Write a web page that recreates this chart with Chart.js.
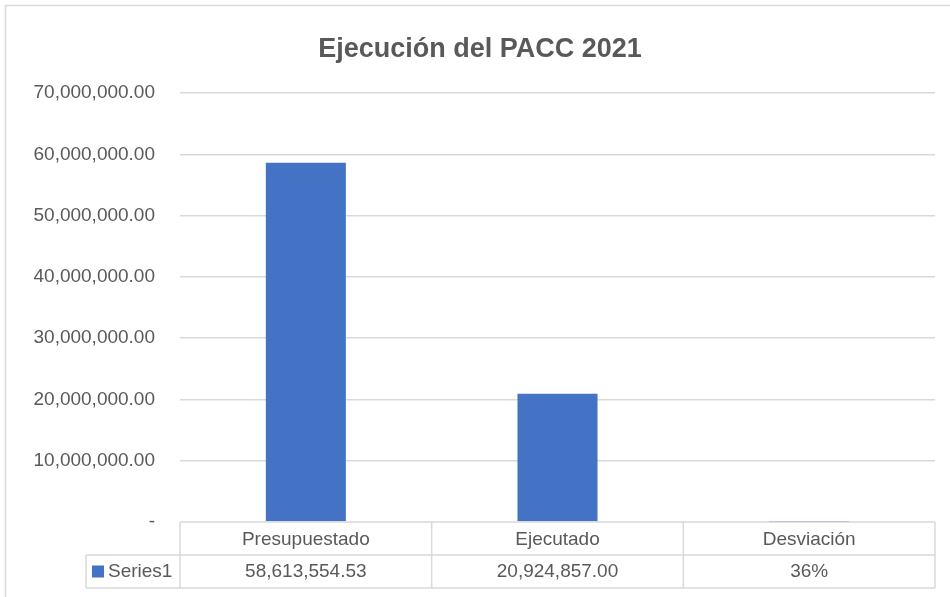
<!DOCTYPE html>
<html>
<head>
<meta charset="utf-8">
<title>Ejecución del PACC 2021</title>
<script src="https://cdn.jsdelivr.net/npm/chart.js@4"></script>
<style>
    html, body { margin: 0; padding: 0; background: #fff; }
    #wrap { width: 950px; height: 597px; position: relative; }
</style>
</head>
<body>
<div id="wrap"><canvas id="chart" width="950" height="597"></canvas></div>
<script>
    // Chart data
    const chartTitle = 'Ejecución del PACC 2021';
    const categories = ['Presupuestado', 'Ejecutado', 'Desviación'];
    const seriesName = 'Series1';
    const seriesValues = [58613554.53, 20924857.00, 0.36];
    const tableLabels = ['58,613,554.53', '20,924,857.00', '36%'];
    const yTicks = [0, 10000000, 20000000, 30000000, 40000000, 50000000, 60000000, 70000000];

    const FONT = "'Liberation Sans', Arial, sans-serif";
    const TEXT = '#595959';
    const GRID = '#d9d9d9';
    const BAR = '#4472c4';
    const SIZE = 19;

    const fmt = v => v.toLocaleString('en-US', { minimumFractionDigits: 2, maximumFractionDigits: 2 });

    /**
     * Draws the frame, the title and the data table under the x axis
     */
    const tablePlugin = {
        id: 'dataTable',
        afterDraw(chart) {
            const { ctx, chartArea, scales } = chart;
            const x = scales.x;
            const top = chartArea.bottom;
            const rowH = 33;
            const legendLeft = 86;
            const colW = x.getPixelForValue(1) - x.getPixelForValue(0);
            const left = chartArea.left;
            const right = chartArea.right;

            ctx.save();
            // chart frame
            ctx.strokeStyle = GRID;
            ctx.lineWidth = 1.5;
            ctx.beginPath();
            ctx.moveTo(5.5, 597);
            ctx.lineTo(5.5, 5.5);
            ctx.lineTo(950, 5.5);
            ctx.stroke();

            // title (Excel centres it over the whole chart object, which is wider than the page)
            ctx.font = `bold 27px ${FONT}`;
            ctx.fillStyle = TEXT;
            ctx.textAlign = 'center';
            ctx.textBaseline = 'alphabetic';
            ctx.fillText(chartTitle, 480, 57);

            // axis line / table top, drawn over the zero-height bar stub
            ctx.beginPath();
            ctx.moveTo(left, top);
            ctx.lineTo(right, top);
            ctx.stroke();

            // table grid
            ctx.beginPath();
            ctx.moveTo(legendLeft, top + rowH);
            ctx.lineTo(right, top + rowH);
            ctx.moveTo(legendLeft, top + 2 * rowH);
            ctx.lineTo(right, top + 2 * rowH);
            ctx.moveTo(legendLeft, top + rowH);
            ctx.lineTo(legendLeft, top + 2 * rowH);
            for (let i = 0; i <= categories.length; i++) {
                const cx = left + i * colW;
                ctx.moveTo(cx, top);
                ctx.lineTo(cx, top + 2 * rowH);
            }
            ctx.stroke();

            // values row
            ctx.font = `${SIZE}px ${FONT}`;
            ctx.textBaseline = 'middle';
            const rowMid = top + rowH * 1.5;
            tableLabels.forEach((label, i) => {
                ctx.fillText(label, x.getPixelForValue(i), rowMid);
            });

            // legend key
            ctx.fillStyle = BAR;
            ctx.fillRect(legendLeft + 6, rowMid - 6, 12, 12);
            ctx.fillStyle = TEXT;
            ctx.textAlign = 'left';
            ctx.fillText(seriesName, legendLeft + 22, rowMid);
            ctx.restore();
        }
    };

    const ctx = document.getElementById('chart').getContext('2d');
    new Chart(ctx, {
        type: 'bar',
        data: {
            labels: categories,
            datasets: [{
                label: seriesName,
                data: seriesValues,
                backgroundColor: BAR,
                barPercentage: 1,
                categoryPercentage: 0.318
            }]
        },
        options: {
            responsive: false,
            animation: false,
            layout: { padding: { left: 0, right: 15, top: 93, bottom: 0 } },
            plugins: {
                legend: { display: false },
                tooltip: { enabled: false },
                title: { display: false }
            },
            scales: {
                x: {
                    grid: { display: false, drawTicks: false },
                    border: { display: false },
                    ticks: {
                        color: TEXT,
                        font: { family: FONT, size: SIZE },
                        padding: 6,
                        maxRotation: 0
                    },
                    afterFit: scale => { scale.height = 75; }
                },
                y: {
                    min: 0,
                    max: 70000000,
                    afterBuildTicks: scale => {
                        scale.ticks = yTicks.map(v => ({ value: v }));
                    },
                    grid: {
                        color: c => c.tick && c.tick.value === 0 ? 'rgba(0,0,0,0)' : GRID,
                        lineWidth: 1.5,
                        drawTicks: false
                    },
                    border: { display: false },
                    ticks: {
                        color: TEXT,
                        font: { family: FONT, size: SIZE },
                        padding: 25,
                        callback: v => v === 0 ? '-' : fmt(v)
                    },
                    afterFit: scale => { scale.width = 180; }
                }
            }
        },
        plugins: [tablePlugin]
    });
</script>
</body>
</html>
